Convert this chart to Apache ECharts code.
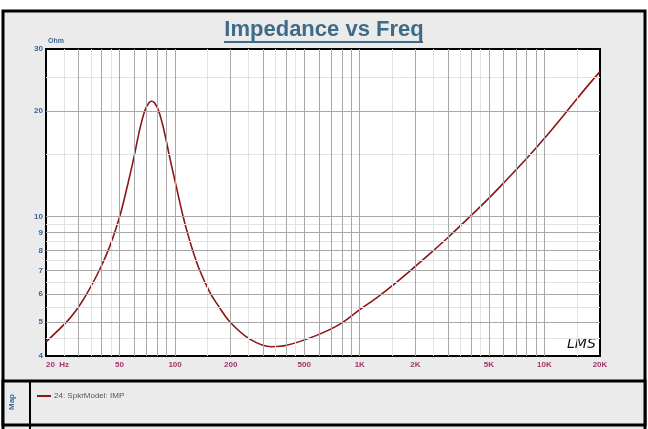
<!DOCTYPE html>
<html>
<head>
<meta charset="utf-8">
<script src="https://cdn.jsdelivr.net/npm/echarts@6.0.0/dist/echarts.min.js"></script>
<style>
  html, body { margin: 0; padding: 0; background: #fff; }
  #chart { width: 648px; height: 429px; }
</style>
</head>
<body>
<div id="chart"></div>
<script>
// ============================================================
// 数据
// ============================================================
var FREQ = [20, 26, 30, 33.3, 39.2, 44.4, 50, 54.2, 59.2, 64.6, 68.7, 72.2, 74.7, 77.3, 81.2, 86.4, 94.3,
  102.9, 110.8, 117, 124.5, 135.2, 154.5, 168, 198.3, 254, 333, 402, 584, 781, 1000, 1234, 1519, 1990,
  2452, 3014, 3950, 5070, 5984, 8010, 10060, 13180, 16920, 20000];
var IMPEDANCE = [4.39, 5.02, 5.52, 6.02, 7.08, 8.24, 9.94, 11.74, 14.35, 17.84, 20.08, 21.08, 21.3, 21.08, 20.1,
  17.9, 14.44, 11.78, 9.94, 8.93, 8.01, 7.07, 6.06, 5.65, 5.0, 4.47, 4.25, 4.29, 4.58, 4.93, 5.42, 5.86, 6.38,
  7.19, 7.91, 8.72, 9.98, 11.35, 12.42, 14.62, 16.75, 19.88, 23.36, 25.86];

var SERIES_NAME = '24: SpkrModel: IMP';

var X_LABELS = [20, 50, 100, 200, 500, 1000, 2000, 5000, 10000, 20000];
var Y_LABELS = [4, 5, 6, 7, 8, 9, 10, 20, 30];

// 网格线：深色为主刻度，浅色为半刻度
var X_GRID_MAJOR = [30, 40, 50, 60, 70, 80, 90, 100, 200, 300, 400, 500, 600, 700, 800, 900,
  1000, 2000, 3000, 4000, 5000, 6000, 7000, 8000, 9000, 10000];
var X_GRID_MINOR = [25, 35, 45, 150, 250, 350, 450, 1500, 2500, 3500, 4500, 15000];
var Y_GRID_MAJOR = [5, 6, 7, 8, 9, 10, 20];
var Y_GRID_MINOR = [4.5, 5.5, 6.5, 7.5, 8.5, 9.5, 15, 25];

var CURVE_COLOR = '#8c1616';
var MAJOR_COLOR = '#a8a8a8';
var MINOR_COLOR = '#e2e2e2';
var FONT = 'Liberation Sans, Arial, sans-serif';

// ============================================================
// 构建
// ============================================================
function formatFreq(v) {
  if (v === 20) return '20  Hz';
  if (v >= 1000) return (v / 1000) + 'K';
  return String(v);
}

function gridLines() {
  var lines = [];
  X_GRID_MINOR.forEach(function(v) {
    lines.push({ xAxis: v, lineStyle: { color: MINOR_COLOR, width: 1, type: 'solid' } });
  });
  Y_GRID_MINOR.forEach(function(v) {
    lines.push({ yAxis: v, lineStyle: { color: MINOR_COLOR, width: 1, type: 'solid' } });
  });
  X_GRID_MAJOR.forEach(function(v) {
    lines.push({ xAxis: v, lineStyle: { color: MAJOR_COLOR, width: 1, type: 'solid' } });
  });
  Y_GRID_MAJOR.forEach(function(v) {
    lines.push({ yAxis: v, lineStyle: { color: MAJOR_COLOR, width: 1, type: 'solid' } });
  });
  return lines;
}

var points = FREQ.map(function(f, i) { return [f, IMPEDANCE[i]]; });

var chart = echarts.init(document.getElementById('chart'));

chart.setOption({
  animation: false,
  backgroundColor: '#fff',
  textStyle: { fontFamily: FONT },
  graphic: [
    // 外框
    { type: 'rect', z: -10, shape: { x: 3, y: 11, width: 642, height: 420 },
      style: { fill: '#ebebeb', stroke: '#000', lineWidth: 3 } },
    // 图例面板
    { type: 'rect', z: -9, shape: { x: 3, y: 381, width: 642, height: 44 },
      style: { fill: '#ebebeb', stroke: '#000', lineWidth: 3 } },
    { type: 'line', z: -8, shape: { x1: 30, y1: 381, x2: 30, y2: 431 },
      style: { stroke: '#000', lineWidth: 2 } },
    { type: 'text', z: 5, x: 12, y: 410, rotation: Math.PI / 2,
      style: { text: 'Map', fill: '#3d6a96', font: 'bold 8px ' + FONT, textVerticalAlign: 'middle' } },
    // 标题
    { type: 'text', z: 5, left: 'center', top: 19,
      style: { text: 'Impedance vs Freq', fill: '#3e6c88', font: 'bold 22px ' + FONT } },
    { type: 'line', z: 5, shape: { x1: 224, y1: 42, x2: 423, y2: 42 },
      style: { stroke: '#3e6c88', lineWidth: 2 } },
    // LMS 标志
    { type: 'text', z: 5, x: 567, y: 337,
      style: { text: 'LMS', fill: '#111', font: 'italic 14px DejaVu Sans, sans-serif' } }
  ],
  legend: {
    left: 32,
    top: 387,
    data: [SERIES_NAME],
    icon: 'rect',
    itemWidth: 14,
    itemHeight: 2,
    itemGap: 4,
    textStyle: { fontSize: 8, color: '#555', fontFamily: FONT, padding: [0, 0, 0, -2] }
  },
  grid: {
    left: 46,
    top: 49,
    width: 554,
    height: 307,
    show: true,
    backgroundColor: '#fff',
    borderColor: '#000',
    borderWidth: 2
  },
  xAxis: {
    type: 'log',
    logBase: 10,
    min: 20,
    max: 20000,
    axisLine: { show: false },
    axisTick: { show: false },
    splitLine: { show: false },
    axisLabel: {
      customValues: X_LABELS,
      formatter: formatFreq,
      alignMinLabel: 'left',
      color: '#a4336a',
      fontSize: 8,
      fontWeight: 'bold',
      fontFamily: FONT,
      margin: 5
    }
  },
  yAxis: {
    type: 'log',
    logBase: 10,
    min: 4,
    max: 30,
    name: 'Ohm',
    nameLocation: 'end',
    nameGap: 4,
    nameTextStyle: { color: '#3d6592', fontSize: 7, fontWeight: 'bold', align: 'left', fontFamily: FONT, padding: [0, 0, 0, 2] },
    axisLine: { show: false },
    axisTick: { show: false },
    splitLine: { show: false },
    axisLabel: {
      customValues: Y_LABELS,
      color: '#3a6596',
      fontSize: 8,
      fontWeight: 'bold',
      fontFamily: FONT,
      margin: 3
    }
  },
  series: [
    {
      name: 'grid-lines',
      type: 'line',
      data: points,
      z: 1,
      silent: true,
      showSymbol: false,
      lineStyle: { opacity: 0 },
      markLine: {
        silent: true,
        symbol: 'none',
        label: { show: false },
        emphasis: { disabled: true },
        data: gridLines()
      }
    },
    {
      name: SERIES_NAME,
      type: 'line',
      data: points,
      z: 3,
      smooth: 0.35,
      showSymbol: false,
      color: CURVE_COLOR,
      lineStyle: { color: CURVE_COLOR, width: 1.6 }
    }
  ]
});
</script>
</body>
</html>
